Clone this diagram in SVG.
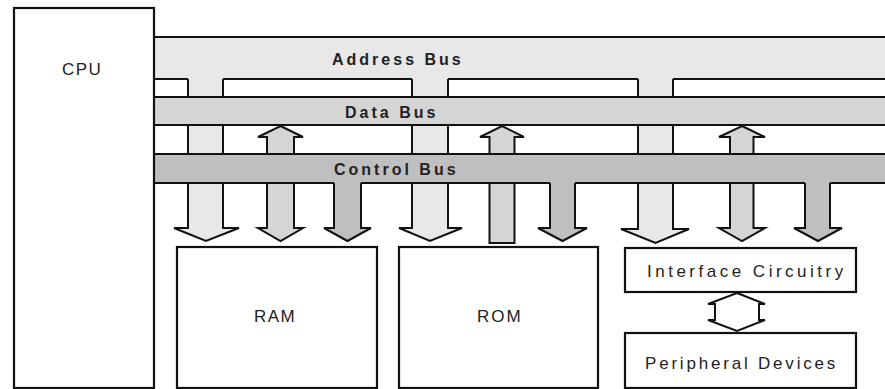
<svg xmlns="http://www.w3.org/2000/svg" width="885" height="389" viewBox="0 0 885 389">
<style>
.ln{stroke:#111;stroke-width:2;fill:none}
.box{fill:#fff;stroke:#111;stroke-width:2.2}
.addr{fill:#e8e8e8}
.data{fill:#d5d5d5}
.ctrl{fill:#bfbfbf}
.arr{stroke:#111;stroke-width:2;stroke-linejoin:miter}
.lbl{font-family:"Liberation Sans",Arial,sans-serif;font-size:17px;fill:#222}
.bus{font-family:"Liberation Sans",Arial,sans-serif;font-size:16px;font-weight:bold;fill:#222;letter-spacing:3px}
</style>
<rect width="885" height="389" fill="#fff"/>
<g id="connectors">
  <!-- address drops -->
  <path class="arr addr" d="M188,79 V228 H174 L206,241 L239,228 H223 V79"/>
  <path class="arr addr" d="M412,79 V228 H399 L430,241 L462,228 H448 V79"/>
  <path class="arr addr" d="M638,79 V229 H621 L655.5,243 L689,229 H673 V79"/>
  <!-- data arrows -->
  <path class="arr data" d="M280.5,126 L303,137 H294 V228 H303 L280.5,241 L258,228 H267 V137 H258 Z"/>
  <path class="arr data" d="M502,126 L524,137 H514.5 V243 H489.5 V137 H480 Z"/>
  <path class="arr data" d="M742,126 L765,137 H753.5 V228 H765 L742,241 L719,228 H730 V137 H719 Z"/>
  <!-- control arrows -->
  <path class="arr ctrl" d="M334,183 V228 H324 L347.5,241 L371,228 H361 V183"/>
  <path class="arr ctrl" d="M550,183 V228 H538 L562.5,241 L587,228 H575 V183"/>
  <path class="arr ctrl" d="M805,183 V228 H794 L818,241 L842,228 H830 V183"/>
  <!-- interface <-> peripheral -->
  <path class="arr" fill="#fff" d="M737,293 L765,304 H759 V320 H765 L737,331 L708,320 H715 V304 H708 Z"/>
</g>
<g id="address-bus">
  <rect class="addr" x="154" y="37" width="731" height="42"/>
  <path class="ln" d="M154,37 H885 M154,79 H188 M223,79 H412 M448,79 H638 M673,79 H885"/>
  <text class="bus" x="332" y="65">Address Bus</text>
</g>
<g id="data-bus">
  <rect class="data" x="154" y="97" width="731" height="28"/>
  <path class="ln" d="M154,97 H885 M154,125 H885"/>
  <text class="bus" x="345" y="118">Data Bus</text>
</g>
<g id="control-bus">
  <rect class="ctrl" x="154" y="154" width="731" height="29"/>
  <path class="ln" d="M154,154 H885 M154,183 H334 M361,183 H550 M575,183 H805 M830,183 H885"/>
  <text class="bus" x="334" y="175">Control Bus</text>
</g>
<g id="cpu">
  <rect class="box" x="14" y="8" width="140" height="380"/>
  <text class="lbl" x="62" y="75" letter-spacing="1.5">CPU</text>
</g>
<g id="ram">
  <rect class="box" x="177" y="247" width="200" height="141"/>
  <text class="lbl" x="254" y="322" letter-spacing="1.5">RAM</text>
</g>
<g id="rom">
  <rect class="box" x="399" y="247" width="199" height="141"/>
  <text class="lbl" x="477" y="322" letter-spacing="2">ROM</text>
</g>
<g id="interface">
  <rect class="box" x="625" y="248" width="231" height="44"/>
  <text class="lbl" x="647" y="277" letter-spacing="3.5">Interface Circuitry</text>
</g>
<g id="peripheral">
  <rect class="box" x="625" y="333" width="231" height="55"/>
  <text class="lbl" x="645" y="369" letter-spacing="2.8">Peripheral Devices</text>
</g>
</svg>
